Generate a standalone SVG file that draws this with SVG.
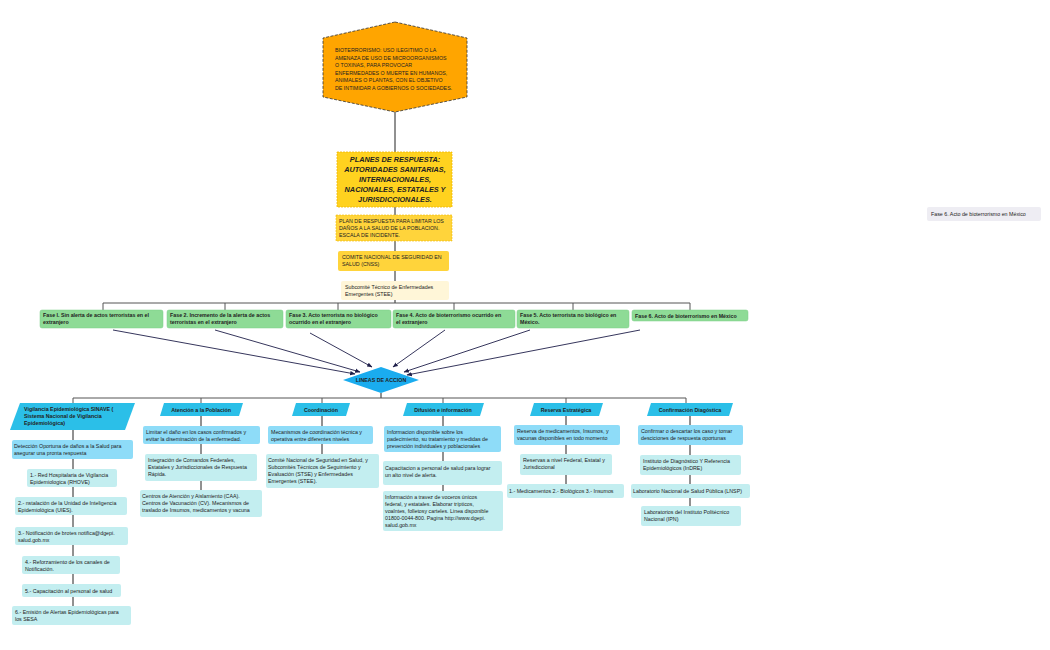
<svg xmlns="http://www.w3.org/2000/svg" width="1050" height="650" viewBox="0 0 1050 650">
<defs>
<marker id="ar" viewBox="0 0 10 10" refX="9" refY="5" markerWidth="6" markerHeight="6" orient="auto"><path d="M0,1 L10,5 L0,9 z" fill="#1f1f4a"/></marker>
</defs>
<style>
text{font-family:"Liberation Sans",Arial,sans-serif;font-size:5.3px;fill:#222}
.b{font-weight:bold}
.c{text-anchor:middle}
.ln{fill:none;stroke:#222;stroke-width:1}
.bus{fill:none;stroke:#555;stroke-width:1}
.ar{fill:none;stroke:#1f1f4a;stroke-width:0.9;marker-end:url(#ar)}
.g{fill:#8EDB96;stroke:#7acc85;stroke-width:0.5}
.bl{fill:#8EDCF8}
.cy{fill:#C3EEF0}
.cat{fill:#2BBFE8}
</style>
<rect width="1050" height="650" fill="#fff"/>
<g id="connectors">
<path class="ln" d="M395,112 V152 M395,207 V215 M395,241 V251 M395,271 V281 M395,300 V303"/>
<path class="bus" d="M103,310 V303 H690 V310 M225,303 V310 M338,303 V310 M454,303 V310 M573,303 V310"/>
<path class="ar" d="M113,330 L355,374"/>
<path class="ar" d="M215,330 L360,372"/>
<path class="ar" d="M310,333 L372,367"/>
<path class="ar" d="M445,330 L393,367"/>
<path class="ar" d="M530,330 L404,372"/>
<path class="ar" d="M640,330 L407,375"/>
<path class="ln" d="M381,393 V398"/>
<path class="bus" d="M73,404 V398 H686 V404 M201,398 V404 M322,398 V404 M443,398 V404 M566,398 V404"/>
<path class="ln" d="M73,430 V606 M201,416 V490 M322,416 V454 M443,416 V491 M566,416 V484 M690,416 V506"/>
</g>
<g id="n-bio">
<polygon points="395,22 467,38 467,97 395,112 323,97 323,38" fill="#FFA500" stroke="#333" stroke-dasharray="3,1.5" stroke-width="0.8"/>
<text x="335" y="52">BIOTERRORISMO: USO ILEGITIMO O LA</text>
<text x="335" y="59.5">AMENAZA DE USO DE MICROORGANISMOS</text>
<text x="335" y="67">O TOXINAS, PARA PROVOCAR</text>
<text x="335" y="74.5">ENFERMEDADES O MUERTE EN HUMANOS,</text>
<text x="335" y="82">ANIMALES O PLANTAS, CON EL OBJETIVO</text>
<text x="335" y="89.5">DE INTIMIDAR A GOBIERNOS O SOCIEDADES.</text>
</g>
<g id="n-planes">
<rect x="337" y="152" width="115" height="55" fill="#FFD21F" stroke="#f0b800" stroke-dasharray="2,1" stroke-width="0.8"/>
<g class="c b" font-style="italic"><text x="395" y="162" style="font-size:7.3px;font-weight:bold;font-style:italic">PLANES DE RESPUESTA:</text>
<text x="395" y="172" style="font-size:7.3px;font-weight:bold;font-style:italic">AUTORIDADES SANITARIAS,</text>
<text x="395" y="182" style="font-size:7.3px;font-weight:bold;font-style:italic">INTERNACIONALES,</text>
<text x="395" y="192" style="font-size:7.3px;font-weight:bold;font-style:italic">NACIONALES, ESTATALES Y</text>
<text x="395" y="202" style="font-size:7.3px;font-weight:bold;font-style:italic">JURISDICCIONALES.</text></g>
</g>
<g id="n-plan">
<rect x="336" y="215" width="116" height="26" fill="#FFD43B" stroke="#f0b800" stroke-dasharray="2,1" stroke-width="0.6"/>
<text x="339" y="223">PLAN DE RESPUESTA PARA LIMITAR LOS</text>
<text x="339" y="230">DAÑOS A LA SALUD DE LA POBLACION.</text>
<text x="339" y="237">ESCALA DE INCIDENTE.</text>
</g>
<g id="n-cnss">
<rect x="338" y="251" width="111" height="20" rx="2" fill="#FFD43B"/>
<text x="342" y="259">COMITE NACIONAL DE SEGURIDAD EN</text>
<text x="342" y="266">SALUD (CNSS)</text>
</g>
<g id="n-stee">
<rect x="341" y="281" width="108" height="19" rx="2" fill="#FFF6D8"/>
<text x="345" y="289">Subcomité Técnico de Enfermedades</text>
<text x="345" y="296">Emergentes (STEE)</text>
</g>
<g id="n-f1"><rect class="g" x="40" y="310" width="123" height="18" rx="2"/><text class="b" x="43" y="317">Fase I. Sin alerta de actos terroristas en el</text><text class="b" x="43" y="324">extranjero</text></g>
<g id="n-f2"><rect class="g" x="167" y="310" width="116" height="18" rx="2"/><text class="b" x="170" y="317">Fase 2. Incremento de la alerta de actos</text><text class="b" x="170" y="324">terroristas en el extranjero</text></g>
<g id="n-f3"><rect class="g" x="286" y="310" width="105" height="18" rx="2"/><text class="b" x="289" y="317">Fase 3. Acto terrorista no biológico</text><text class="b" x="289" y="324">ocurrido en el extranjero</text></g>
<g id="n-f4"><rect class="g" x="393" y="310" width="122" height="18" rx="2"/><text class="b" x="396" y="317">Fase 4. Acto de bioterrorismo ocurrido en</text><text class="b" x="396" y="324">el extranjero</text></g>
<g id="n-f5"><rect class="g" x="517" y="310" width="112" height="18" rx="2"/><text class="b" x="520" y="317">Fase 5. Acto terrorista no biológico en</text><text class="b" x="520" y="324">México.</text></g>
<g id="n-f6"><rect class="g" x="632" y="310" width="116" height="11" rx="2"/><text class="b" x="635" y="317.5">Fase 6. Acto de bioterrorismo en México</text></g>
<g id="n-lineas">
<polygon points="343,380 381,367 419,380 381,393" fill="#1AACEF"/>
<text class="b c" x="381" y="382">LINEAS DE ACCION</text>
</g>
<g id="n-vig">
<polygon class="cat" points="20,403 135,403 125,430 10,430"/>
<text class="b" x="24" y="411">Vigilancia Epidemiológica SINAVE (</text>
<text class="b" x="24" y="418">Sistema Nacional de Vigilancia</text>
<text class="b" x="24" y="425">Epidemiológica)</text>
</g>
<g id="n-v0"><rect class="bl" x="12" y="440" width="121" height="19" rx="2"/><text x="14" y="448">Detección Oportuna de daños a la Salud para</text><text x="14" y="455">asegurar una pronta respuesta</text></g>
<g id="n-v1"><rect class="cy" x="27" y="469" width="90" height="18" rx="2"/><text x="30" y="477">1.- Red Hospitalaria de Vigilancia</text><text x="30" y="484">Epidemiologica (RHOVE)</text></g>
<g id="n-v2"><rect class="cy" x="15" y="497" width="112" height="18" rx="2"/><text x="18" y="505">2.- nstalación de la Unidad de Inteligencia</text><text x="18" y="512">Epidemiológica (UIES).</text></g>
<g id="n-v3"><rect class="cy" x="15" y="527" width="113" height="18" rx="2"/><text x="18" y="535">3.- Notificación de brotes notifica@dgepi.</text><text x="18" y="542">salud.gob.mx</text></g>
<g id="n-v4"><rect class="cy" x="22" y="556" width="98" height="18" rx="2"/><text x="25" y="564">4.- Reforzamiento de los canales de</text><text x="25" y="571">Notificación.</text></g>
<g id="n-v5"><rect class="cy" x="22" y="584" width="99" height="13" rx="2"/><text x="25" y="592.5">5.- Capacitación al personal de salud</text></g>
<g id="n-v6"><rect class="cy" x="12" y="606" width="119" height="19" rx="2"/><text x="15" y="614">6.- Emisión de Alertas Epidemiológicas para</text><text x="15" y="621">los SESA</text></g>
<g id="n-aten"><polygon class="cat" points="164,403 243,403 239,416 160,416"/><text class="b c" x="201" y="411.5">Atención a la Población</text></g>
<g id="n-a0"><rect class="bl" x="143" y="426" width="117" height="18" rx="2"/><text x="146" y="434">Limitar el daño en los casos confirmados y</text><text x="146" y="441">evitar la diseminación de la enfermedad.</text></g>
<g id="n-a1"><rect class="cy" x="145" y="454" width="112" height="27" rx="2"/><text x="148" y="462">Integración de Comandos Federales,</text><text x="148" y="469">Estatales y Jurisdiccionales de Respuesta</text><text x="148" y="476">Rápida.</text></g>
<g id="n-a2"><rect class="cy" x="140" y="490" width="122" height="27" rx="2"/><text x="142" y="498">Centros de Atención y Aislamiento (CAA).</text><text x="142" y="505">Centros de Vacunación (CV). Mecanismos de</text><text x="142" y="512">traslado de Insumos, medicamentos y vacuna</text></g>
<g id="n-coord"><polygon class="cat" points="296,403 350,403 346,416 292,416"/><text class="b c" x="321" y="411.5">Coordinación</text></g>
<g id="n-c0"><rect class="bl" x="268" y="426" width="105" height="18" rx="2"/><text x="271" y="434">Mecanismos de coordinación técnica y</text><text x="271" y="441">operativa entre diferentes niveles</text></g>
<g id="n-c1"><rect class="cy" x="266" y="454" width="113" height="34" rx="2"/><text x="268" y="462">Comité Nacional de Seguridad en Salud, y</text><text x="268" y="469">Subcomités Técnicos de Seguimiento y</text><text x="268" y="476">Evaluación (STSE) y Enfermedades</text><text x="268" y="483">Emergentes (STEE).</text></g>
<g id="n-dif"><polygon class="cat" points="407,403 484,403 480,416 403,416"/><text class="b c" x="443" y="411.5">Difusión e información</text></g>
<g id="n-d0"><rect class="bl" x="384" y="426" width="117" height="26" rx="2"/><text x="387" y="434">Informacion disponible sobre los</text><text x="387" y="441">padecimiento, su tratamiento y medidas de</text><text x="387" y="448">prevención individuales  y poblacionales</text></g>
<g id="n-d1"><rect class="cy" x="383" y="461" width="119" height="24" rx="2"/><text x="385" y="470">Capacitacion a personal de salud para lograr</text><text x="385" y="477">un alto nivel de alerta.</text></g>
<g id="n-d2"><rect class="cy" x="383" y="491" width="120" height="40" rx="2"/><text x="385" y="499">Información a travez de voceros únicos</text><text x="385" y="506">federal, y estatales. Elaborar trípticos,</text><text x="385" y="513">voalntes, folletosy carteles.  Linea disponible</text><text x="385" y="520">01800-0044-800. Pagina http://www.dgepi.</text><text x="385" y="527">salud.gob.mx</text></g>
<g id="n-res"><polygon class="cat" points="534,403 603,403 599,416 530,416"/><text class="b c" x="566" y="411.5">Reserva Estratégica</text></g>
<g id="n-r0"><rect class="bl" x="514" y="425" width="106" height="20" rx="2"/><text x="517" y="433">Reserva de medicamentos, Insumos, y</text><text x="517" y="440">vacunas disponibles en todo momento</text></g>
<g id="n-r1"><rect class="cy" x="520" y="454" width="92" height="21" rx="2"/><text x="523" y="462">Reservas a nivel Federal, Estatal y</text><text x="523" y="469">Jurisdiccional</text></g>
<g id="n-r2"><rect class="cy" x="507" y="484" width="117" height="14" rx="2"/><text x="509" y="493">1.- Medicamentos 2.- Biológicos 3.- Insumos</text></g>
<g id="n-conf"><polygon class="cat" points="651,403 733,403 729,416 647,416"/><text class="b c" x="690" y="411.5">Confirmación Diagóstica</text></g>
<g id="n-k0"><rect class="bl" x="638" y="425" width="105" height="20" rx="2"/><text x="641" y="433">Confirmar o descartar los caso y tomar</text><text x="641" y="440">desciciones de respuesta oportunas</text></g>
<g id="n-k1"><rect class="cy" x="640" y="455" width="101" height="20" rx="2"/><text x="643" y="463">Instituto de Diagnóstico Y Referencia</text><text x="643" y="470">Epidemiológicos (InDRE)</text></g>
<g id="n-k2"><rect class="cy" x="631" y="484" width="119" height="14" rx="2"/><text x="633" y="493">Laboratorio Nacional de Salud Pública (LNSP)</text></g>
<g id="n-k3"><rect class="cy" x="641" y="506" width="100" height="20" rx="2"/><text x="644" y="514">Laboratorios del Instituto Politécnico</text><text x="644" y="521">Nacional (IPN)</text></g>
<g id="n-float"><rect x="927" y="207" width="114" height="14" rx="2" fill="#EEEDF3"/><text x="931" y="216">Fase 6. Acto de bioterrorismo en México</text></g>
</svg>
